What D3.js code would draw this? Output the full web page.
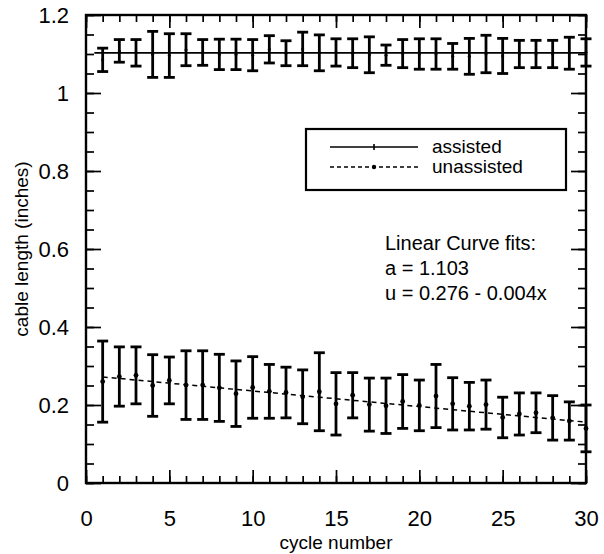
<!DOCTYPE html>
<html>
<head>
<meta charset="utf-8">
<script src="https://cdn.jsdelivr.net/npm/d3@7"></script>
<style>
  body { margin: 0; background: #fff; }
  svg { font-family: "Liberation Sans", Arial, Helvetica, sans-serif; }
  .axis path.domain { display: none; }
  .axis line { stroke: #000; stroke-width: 1.7px; }
  .axis text { font-size: 22px; fill: #000; }
</style>
</head>
<body>
<script>
// cycle numbers 1..30
var cycles = [1, 2, 3, 4, 5, 6, 7, 8, 9, 10, 11, 12, 13, 14, 15,
              16, 17, 18, 19, 20, 21, 22, 23, 24, 25, 26, 27, 28, 29, 30]

// assisted: mean cable length and error (half bar)
var assistedMean = [1.085, 1.108, 1.103, 1.099, 1.096, 1.111, 1.104, 1.099, 1.099, 1.097,
                    1.112, 1.102, 1.113, 1.103, 1.104, 1.102, 1.098, 1.097, 1.101, 1.100,
                    1.100, 1.094, 1.094, 1.100, 1.095, 1.100, 1.100, 1.100, 1.102, 1.104]
var assistedErr = [0.030, 0.029, 0.034, 0.059, 0.056, 0.041, 0.033, 0.039, 0.039, 0.040,
                   0.035, 0.032, 0.043, 0.046, 0.035, 0.037, 0.046, 0.026, 0.036, 0.039,
                   0.039, 0.033, 0.046, 0.048, 0.045, 0.035, 0.035, 0.035, 0.041, 0.035]

// unassisted
var unassistedMean = [0.260, 0.273, 0.276, 0.250, 0.263, 0.251, 0.251, 0.244, 0.229, 0.245,
                      0.235, 0.232, 0.221, 0.234, 0.203, 0.225, 0.201, 0.198, 0.209, 0.199,
                      0.223, 0.203, 0.197, 0.201, 0.168, 0.177, 0.180, 0.167, 0.159, 0.140]
var unassistedErr = [0.104, 0.076, 0.073, 0.079, 0.060, 0.088, 0.088, 0.086, 0.084, 0.079,
                     0.069, 0.065, 0.069, 0.100, 0.080, 0.058, 0.068, 0.071, 0.069, 0.065,
                     0.081, 0.067, 0.061, 0.063, 0.052, 0.054, 0.051, 0.057, 0.049, 0.060]

// linear curve fits
var fitA = 1.103
var fitU = [0.276, -0.004]

var xTicks = [0, 5, 10, 15, 20, 25, 30]
var yTicks = [0, 0.2, 0.4, 0.6, 0.8, 1, 1.2]
var legendLabels = ['assisted', 'unassisted']
var noteLines = ['Linear Curve fits:', 'a = 1.103', 'u = 0.276 - 0.004x']

var W = 604
var H = 554
var margin = { top: 15, right: 18, bottom: 71, left: 86 }
var width = W - margin.left - margin.right
var height = H - margin.top - margin.bottom

var x = d3.scaleLinear().domain([0, 30]).range([0, width])
var y = d3.scaleLinear().domain([0, 1.2]).range([height, 0])

var svg = d3.select('body').append('svg')
  .attr('width', W)
  .attr('height', H)

var main = svg.append('g')
  .attr('transform', 'translate(' + margin.left + ',' + margin.top + ')')

var minorX = d3.range(0, 31)
var minorY = d3.range(0, 25).map(function (i) { return i * 0.05 })

// bottom axis: minor + major ticks pointing in
main.append('g').attr('class', 'axis')
  .attr('transform', 'translate(0,' + height + ')')
  .call(d3.axisBottom(x).tickValues(minorX).tickSize(-7).tickFormat(''))
main.append('g').attr('class', 'axis')
  .attr('transform', 'translate(0,' + height + ')')
  .call(d3.axisBottom(x).tickValues(xTicks).tickSize(-13).tickPadding(27).tickFormat(d3.format('d')))

// top axis
main.append('g').attr('class', 'axis')
  .call(d3.axisTop(x).tickValues(minorX).tickSize(-7).tickFormat(''))
main.append('g').attr('class', 'axis')
  .call(d3.axisTop(x).tickValues(xTicks).tickSize(-13).tickFormat(''))

// left axis
main.append('g').attr('class', 'axis')
  .call(d3.axisLeft(y).tickValues(minorY).tickSize(-8).tickFormat(''))
main.append('g').attr('class', 'axis')
  .call(d3.axisLeft(y).tickValues(yTicks).tickSize(-15).tickPadding(17)
    .tickFormat(function (d) { return d === 0 || d === 1 ? d3.format('d')(d) : d3.format('.1f')(d) }))

// right axis
main.append('g').attr('class', 'axis')
  .attr('transform', 'translate(' + width + ',0)')
  .call(d3.axisRight(y).tickValues(minorY).tickSize(-8).tickFormat(''))
main.append('g').attr('class', 'axis')
  .attr('transform', 'translate(' + width + ',0)')
  .call(d3.axisRight(y).tickValues(yTicks).tickSize(-15).tickFormat(''))

// frame
main.append('rect')
  .attr('width', width)
  .attr('height', height)
  .attr('fill', 'none')
  .attr('stroke', '#000')
  .attr('stroke-width', 2.4)

// fit lines
main.append('line')
  .attr('x1', x(0.5)).attr('x2', x(30))
  .attr('y1', y(fitA)).attr('y2', y(fitA))
  .attr('stroke', '#000').attr('stroke-width', 1.7)

main.append('line')
  .attr('x1', x(1)).attr('x2', x(30))
  .attr('y1', y(fitU[0] + fitU[1] * 1)).attr('y2', y(fitU[0] + fitU[1] * 30))
  .attr('stroke', '#000').attr('stroke-width', 1.5)
  .attr('stroke-dasharray', '5,4')

// error bars
function drawSeries (means, errs, markerR) {
  var data = cycles.map(function (c, i) { return { c: c, m: means[i], e: errs[i] } })
  var g = main.append('g')
  var bars = g.selectAll('g.bar').data(data).enter().append('g')
  bars.append('line')
    .attr('x1', function (d) { return x(d.c) })
    .attr('x2', function (d) { return x(d.c) })
    .attr('y1', function (d) { return y(d.m + d.e) })
    .attr('y2', function (d) { return y(d.m - d.e) })
    .attr('stroke', '#000').attr('stroke-width', 2.8)
  ;[1, -1].forEach(function (s) {
    bars.append('line')
      .attr('x1', function (d) { return x(d.c) - 5.5 })
      .attr('x2', function (d) { return x(d.c) + 5.5 })
      .attr('y1', function (d) { return y(d.m + s * d.e) })
      .attr('y2', function (d) { return y(d.m + s * d.e) })
      .attr('stroke', '#000').attr('stroke-width', 2.8)
  })
  bars.append('circle')
    .attr('cx', function (d) { return x(d.c) })
    .attr('cy', function (d) { return y(d.m) })
    .attr('r', markerR)
    .attr('fill', '#000')
}

drawSeries(assistedMean, assistedErr, 1.5)
drawSeries(unassistedMean, unassistedErr, 2.4)

// legend
var leg = svg.append('g').attr('transform', 'translate(306,129)')
leg.append('rect')
  .attr('width', 260).attr('height', 61)
  .attr('fill', '#fff').attr('stroke', '#000').attr('stroke-width', 2.2)

legendLabels.forEach(function (label, i) {
  var ly = 18 + i * 20
  leg.append('line')
    .attr('x1', 24).attr('x2', 112)
    .attr('y1', ly).attr('y2', ly)
    .attr('stroke', '#000').attr('stroke-width', 1.6)
    .attr('stroke-dasharray', i === 0 ? null : '4,3')
  if (i === 0) {
    leg.append('line')
      .attr('x1', 68).attr('x2', 68).attr('y1', ly - 3).attr('y2', ly + 3)
      .attr('stroke', '#000').attr('stroke-width', 1.6)
  } else {
    leg.append('circle').attr('cx', 68).attr('cy', ly).attr('r', 2.2).attr('fill', '#000')
  }
  leg.append('text')
    .attr('x', 126).attr('y', ly + 6)
    .attr('font-size', 19)
    .text(label)
})

// fit notes
svg.append('g').selectAll('text')
  .data(noteLines).enter().append('text')
  .attr('x', 385)
  .attr('y', function (d, i) { return 250 + i * 25 })
  .attr('font-size', 20)
  .text(function (d) { return d })

// axis titles
svg.append('text')
  .attr('x', margin.left + width / 2)
  .attr('y', 549)
  .attr('text-anchor', 'middle')
  .attr('font-size', 19)
  .text('cycle number')

svg.append('text')
  .attr('transform', 'translate(28,' + (margin.top + height / 2) + ') rotate(-90)')
  .attr('text-anchor', 'middle')
  .attr('font-size', 19)
  .text('cable length (inches)')
</script>
</body>
</html>
